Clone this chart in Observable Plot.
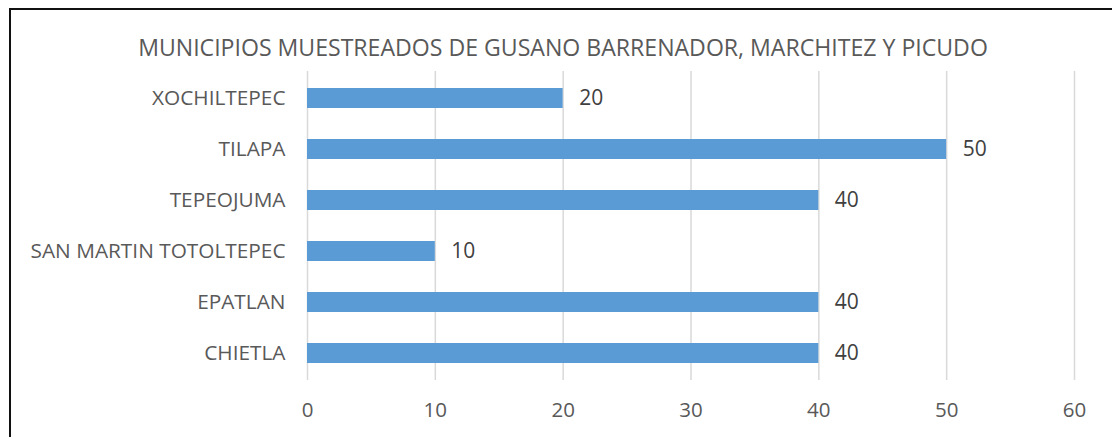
<!DOCTYPE html>
<html>
<head>
<meta charset="utf-8">
<script src="https://cdn.jsdelivr.net/npm/d3@7"></script>
<script src="https://cdn.jsdelivr.net/npm/@observablehq/plot@0.6"></script>
<style>
  html, body { margin: 0; padding: 0; background: #fff; overflow: hidden; }
  #wrap { position: relative; width: 1112px; height: 437px; overflow: hidden; font-family: "Open Sans", Lato, sans-serif; }
  #frame { position: absolute; left: 9px; top: 8px; width: 1300px; height: 700px; border-left: 2px solid #111; border-top: 2px solid #111; box-sizing: border-box; }
  #title { position: absolute; left: 7px; width: 1112px; top: 31px; line-height: 32px; text-align: center; font-size: 23.1px; color: #595959; white-space: nowrap; }
  #chart { position: absolute; left: 0; top: 0; }
</style>
</head>
<body>
<div id="wrap">
  <div id="frame"></div>
  <div id="title">MUNICIPIOS MUESTREADOS DE GUSANO BARRENADOR, MARCHITEZ Y PICUDO</div>
  <div id="chart"></div>
</div>
<script>
const municipios = ["XOCHILTEPEC", "TILAPA", "TEPEOJUMA", "SAN MARTIN TOTOLTEPEC", "EPATLAN", "CHIETLA"];
const valores = [20, 50, 40, 10, 40, 40];
const xTicks = [0, 10, 20, 30, 40, 50, 60];

const data = municipios.map((m, i) => ({municipio: m, valor: valores[i]}));

const chart = Plot.plot({
  width: 1112,
  height: 437,
  marginLeft: 307,
  marginRight: 38,
  marginTop: 71,
  marginBottom: 57,
  style: {background: "transparent", fontFamily: "'Open Sans', Lato, sans-serif", fontSize: "16px", color: "#595959", overflow: "visible"},
  x: {domain: [0, 60], ticks: xTicks, label: null},
  y: {domain: municipios, label: null, paddingInner: 0.61, paddingOuter: 0.305},
  marks: [
    Plot.ruleX(xTicks, {stroke: "#d9d9d9", strokeWidth: 1.5}),
    Plot.barX(data, {x: "valor", y: "municipio", fill: "#5B9BD5"}),
    Plot.text(data, {x: "valor", y: "municipio", text: d => String(d.valor), dx: 16, textAnchor: "start", fill: "#404040", fontSize: 21}),
    Plot.axisX({ticks: xTicks, tickSize: 0, tickPadding: 22, fontSize: 20.5, fill: "#595959", label: null}),
    Plot.axisY({tickSize: 0, tickPadding: 22, fontSize: 20.8, fill: "#595959", label: null})
  ]
});
document.getElementById("chart").appendChild(chart);
</script>
</body>
</html>
